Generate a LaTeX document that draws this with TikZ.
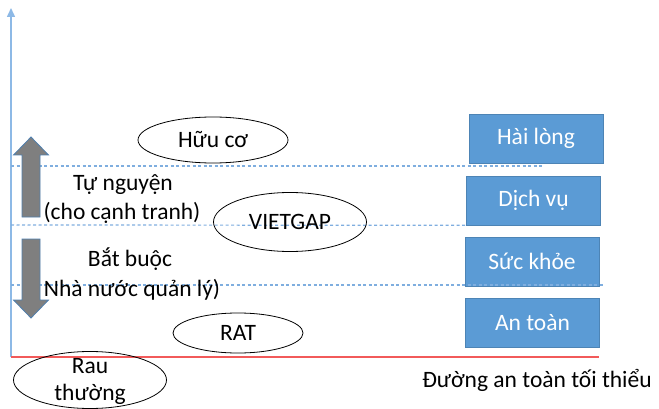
\documentclass[tikz,border=0pt]{standalone}
\usepackage{fontspec}
\setmainfont{Carlito}
\usetikzlibrary{arrows.meta,shapes.geometric}
\definecolor{boxblue}{HTML}{5B9BD5}
\definecolor{axisblue}{HTML}{8DB9E6}
\definecolor{dashblue}{HTML}{7FAEDF}
\definecolor{floorred}{HTML}{F25A5A}
\definecolor{arrowgray}{HTML}{7F7F7F}
\definecolor{arrowedge}{HTML}{4F7FAF}
\tikzset{
    level/.style={fill=boxblue, draw=boxblue!85!black, line width=0.6pt, minimum width=134pt, minimum height=49pt, text=white, font=\fontsize{23.5}{27}\selectfont},
    kind/.style={ellipse, draw, thick, inner sep=0pt, font=\fontsize{23.5}{27}\selectfont},
    note/.style={inner sep=0pt, font=\fontsize{23.5}{27}\selectfont},
    limit/.style={dashblue, line width=1.2pt, dash pattern=on 3pt off 2.5pt}
}

\begin{document}
\begin{tikzpicture}[x=1pt, y=-1pt]
            \useasboundingbox (0, 0) rectangle (659, 409);
            \coordinate (origin) at (11, 357);
            \coordinate (top) at (11, 8);
            \coordinate (floorend) at (599, 357);
            \draw[axisblue, line width=1.5pt, -{Triangle[width=8pt, length=9pt]}] (origin)--(top);
            \draw[floorred, line width=2pt] (origin)--(floorend);
            \node[level] (hailong) at (536, 138.5) {Hài lòng};
            \node[level] (dichvu) at (533.5, 200.5) {Dịch vụ};
            \node[level] (suckhoe) at (532, 261.5) {Sức khỏe};
            \node[level] (antoan) at (532.5, 323) {An toàn};
            \coordinate (limit1) at (11, 166);
            \coordinate (limit1end) at (543, 166);
            \coordinate (limit2) at (11, 225);
            \coordinate (limit3) at (11, 285);
            \coordinate (limit3end) at (603, 285);
            \draw[limit] (limit1)--(limit1end);
            \draw[limit] (limit2)--(dichvu.south west);
            \draw[limit] (limit3)--(limit3end);
            \node[kind, minimum width=150pt, minimum height=46pt] (huuco) at (213, 140) {Hữu cơ};
            \node[kind, minimum width=153pt, minimum height=59pt] (vietgap) at (290, 222) {VIETGAP};
            \node[kind, minimum width=130pt, minimum height=40pt] (rat) at (238, 333) {RAT};
            \node[kind, minimum width=153pt, minimum height=57pt] (rau) at (90, 380) {};
            \node[note, align=center] (rautext) at (90, 381.5) {Rau\\thường};
            \filldraw[fill=arrowgray, draw=arrowedge, line width=0.8pt] (31, 137)--(48.5, 155)--(40, 155)--(40, 217)--(22, 217)--(22, 155)--(13.5, 155)--cycle;
            \filldraw[fill=arrowgray, draw=arrowedge, line width=0.8pt] (31, 318)--(48.5, 300)--(40, 300)--(40, 239)--(22, 239)--(22, 300)--(13.5, 300)--cycle;
            \node[note] (tunguyen) at (123, 185) {Tự nguyện};
            \node[note] (canhtranh) at (122, 213) {(cho cạnh tranh)};
            \node[note] (batbuoc) at (130, 259) {Bắt buộc};
            \node[note] (quanly) at (132, 290) {Nhà nước quản lý)};
            \node[note] (duong) at (537, 380) {Đường an toàn tối thiểu};
        \end{tikzpicture}
\end{document}
